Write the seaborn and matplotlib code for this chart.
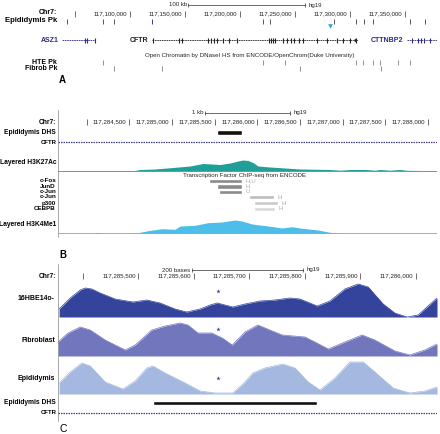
import seaborn as sns
import matplotlib.pyplot as plt

sns.set_theme(style="white")
plt.rcParams["font.family"] = ["Liberation Sans", "DejaVu Sans"]

W, H = 440, 434

# ---------------- panel A : ~340 kb around CFTR ----------------
A_XLIM = (117_035_500, 117_379_000)
A_TICKS = [117_050_000, 117_100_000, 117_150_000, 117_200_000,
           117_250_000, 117_300_000, 117_350_000]
A_SCALE = (117_153_000, 117_259_000)

EPI_PK = [117_042_700, 117_075_500, 117_085_500, 117_120_000, 117_221_000,
          117_227_000, 117_285_500, 117_305_500, 117_313_000, 117_321_000,
          117_354_500, 117_368_000]
EPI_PK_COLORS = ["#555555"] * 3 + ["#3a3a9a"] + ["#555555"] * 8
HTE_PK = [117_075_500, 117_221_000, 117_241_000, 117_305_500, 117_312_000,
          117_321_000, 117_327_000, 117_343_500, 117_354_500]
FIB_PK = [117_085_500, 117_129_000, 117_254_500, 117_328_000]
ARROW_POS = 117_281_800

GENE_NAMES = ["ASZ1", "CFTR", "CTTNBP2"]
GENE_START = [117_038_200, 117_120_000, 117_351_700]
GENE_END = [117_068_200, 117_305_400, 117_379_000]
GENE_EXONS = [
    [117_059_100, 117_061_000, 117_068_200],
    [117_120_900, 117_144_500, 117_147_300, 117_170_900, 117_173_600,
     117_176_300, 117_179_100, 117_184_500, 117_190_000, 117_197_200,
     117_226_300, 117_228_100, 117_229_900, 117_231_800, 117_239_000,
     117_242_700, 117_246_300, 117_249_000, 117_253_600, 117_257_200,
     117_270_000, 117_279_000, 117_288_100, 117_293_600, 117_300_000,
     117_305_400],
    [117_356_300, 117_361_700, 117_364_500, 117_367_200, 117_372_600],
]
GENE_COLORS = ["#2a2a86", "#222222", "#2a2a86"]

# ---------------- panel B : ~4.4 kb ----------------
B_XLIM = (117_283_663, 117_288_105)
B_TICKS = [117_284_000, 117_284_500, 117_285_000, 117_285_500, 117_286_000,
           117_286_500, 117_287_000, 117_287_500, 117_288_000]
B_SCALE = (117_285_385, 117_286_380)
DHS = (117_285_526, 117_285_822)

H3K27AC_POS = [117_283_663, 117_284_565, 117_284_624, 117_284_800, 117_285_011,
               117_285_210, 117_285_362, 117_285_468, 117_285_562, 117_285_679,
               117_285_773, 117_285_831, 117_285_890, 117_285_948, 117_286_007,
               117_286_148, 117_286_323, 117_286_499, 117_286_710, 117_286_851,
               117_286_968, 117_287_085, 117_287_261, 117_287_378, 117_287_437,
               117_287_554, 117_287_671, 117_287_753, 117_287_906, 117_288_105]
H3K27AC_VAL = [0, 0, 1, 1.5, 3, 4.5, 7, 6.5, 6, 7.5, 9.5, 10.5, 10, 8, 4.5,
               3.5, 2.5, 1.5, 1.2, 1, 0.3, 1, 1, 0.3, 1, 0.3, 1, 0.2, 0, 0]

H3K4ME1_POS = [117_283_663, 117_284_097, 117_284_132, 117_284_179, 117_284_507,
               117_284_624, 117_284_718, 117_284_882, 117_285_034, 117_285_093,
               117_285_269, 117_285_421, 117_285_585, 117_285_737, 117_285_819,
               117_285_937, 117_286_124, 117_286_288, 117_286_405, 117_286_523,
               117_286_710, 117_286_874, 117_287_027, 117_288_105]
H3K4ME1_VAL = [0, 0, 0.8, 0, 0, 1, 2.6, 4.6, 4, 7.3, 8, 10.6, 11.3, 13.3,
               12.3, 9.3, 7.3, 5.3, 6.6, 5, 3.3, 0.6, 0, 0]

TF_NAMES = ["c-Fos", "JunD", "c-Jun", "c-Jun", "p300", "CEBPB"]
TF_START = [117_285_433, 117_285_527, 117_285_550, 117_285_902, 117_285_960, 117_285_960]
TF_END = [117_285_820, 117_285_820, 117_285_820, 117_286_195, 117_286_242, 117_286_206]
TF_CELLS = ["H,U", "H", "U", "H", "H", "H"]
TF_COLORS = ["#8a8a8a", "#8a8a8a", "#8a8a8a", "#bcbcbc", "#cacaca", "#dadada"]

# ---------------- panel C : ~680 bp ----------------
C_XLIM = (117_285_355, 117_286_038)
C_TICKS = [117_285_400, 117_285_500, 117_285_600, 117_285_700, 117_285_800,
           117_285_900, 117_286_000]
C_SCALE = (117_285_596, 117_285_796)
STAR_POS = 117_285_643

HBE_POS = [117_285_357, 117_285_377, 117_285_395, 117_285_404, 117_285_416,
           117_285_431, 117_285_458, 117_285_490, 117_285_515, 117_285_539,
           117_285_566, 117_285_587, 117_285_611, 117_285_629, 117_285_642,
           117_285_656, 117_285_670, 117_285_692, 117_285_719, 117_285_746,
           117_285_773, 117_285_791, 117_285_822, 117_285_845, 117_285_872,
           117_285_896, 117_285_914, 117_285_941, 117_285_962, 117_285_984,
           117_286_004, 117_286_022, 117_286_038]
HBE_VAL = [8, 19, 27, 29, 28, 24, 18, 15, 17, 14, 8, 5, 8, 12, 14, 12, 10, 13,
           16, 17, 19, 18, 11, 16, 28, 33, 30, 13, 4, 0, 2, 11, 19]

FIB_POS = [117_285_355, 117_285_373, 117_285_395, 117_285_413, 117_285_440,
           117_285_476, 117_285_494, 117_285_524, 117_285_548, 117_285_575,
           117_285_589, 117_285_607, 117_285_632, 117_285_651, 117_285_669,
           117_285_692, 117_285_715, 117_285_737, 117_285_759, 117_285_800,
           117_285_818, 117_285_842, 117_285_872, 117_285_903, 117_285_926,
           117_285_962, 117_285_989, 117_286_016, 117_286_038]
FIB_VAL = [14, 23, 29, 26, 16, 6, 11, 26, 30, 33, 31, 23, 23, 18, 11, 24, 31,
           26, 21, 19, 14, 7, 14, 21, 16, 5, 1, 6, 12]

EPI_POS = [117_285_357, 117_285_377, 117_285_398, 117_285_413, 117_285_440,
           117_285_472, 117_285_494, 117_285_515, 117_285_526, 117_285_548,
           117_285_584, 117_285_611, 117_285_638, 117_285_670, 117_285_692,
           117_285_706, 117_285_728, 117_285_760, 117_285_782, 117_285_806,
           117_285_827, 117_285_854, 117_285_881, 117_285_905, 117_285_926,
           117_285_959, 117_285_989, 117_286_016, 117_286_038]
EPI_VAL = [11, 22, 31, 28, 12, 5, 13, 26, 28, 21, 11, 3, 1, 1, 12, 21, 26, 30,
           26, 12, 4, 16, 32, 32, 22, 6, 1, 3, 7]

TICK_FS = 4.4
LAB_FS = 4.8

fig = plt.figure(figsize=(4.4, 4.34), dpi=100)


def px_axes(x0, x1, y0, y1, xlim):
    # axes placed in pixel units, y runs downwards like the browser image
    ax = fig.add_axes([x0 / W, 1 - y1 / H, (x1 - x0) / W, (y1 - y0) / H])
    ax.set_xlim(*xlim)
    ax.set_ylim(y1, y0)
    ax.axis("off")
    return ax


def label(x, y, s, size=LAB_FS, bold=True, ha="right", color="black"):
    fig.text(x / W, 1 - y / H, s, ha=ha, va="center", fontsize=size,
             fontweight="bold" if bold else "normal", color=color)


def ruler(ax, ticks, y, bare_first=True):
    ax.vlines(ticks, y - 3, y + 3, color="#333333", lw=0.5)
    for i, t in enumerate(ticks):
        if bare_first and i == 0:
            continue
        ax.annotate(f"{t:,}", (t, y), xytext=(-2, 0), textcoords="offset points",
                    ha="right", va="center", fontsize=TICK_FS, color="#222222")


def scalebar(ax, span, y, text):
    ax.plot(span, [y, y], color="#333333", lw=0.5)
    ax.vlines(span, y - 2, y + 2, color="#333333", lw=0.5)
    ax.annotate(text, (span[0], y), xytext=(-1, 0), textcoords="offset points",
                ha="right", va="center", fontsize=TICK_FS)
    ax.annotate("hg19", (span[1], y), xytext=(3, 0), textcoords="offset points",
                ha="left", va="center", fontsize=TICK_FS)


def dotted_gene(ax, xlim, y):
    ax.plot(xlim, [y, y], color="#3c3c8c", lw=0.9, ls=(0, (1.2, 0.8)))


# ================= A =================
axA = px_axes(59, 437, 0, 86, A_XLIM)
scalebar(axA, A_SCALE, 5, "100 kb")
ruler(axA, A_TICKS, 13.5)
label(57, 13, "Chr7:", size=5)
axA.vlines(EPI_PK, 18.5, 24, colors=EPI_PK_COLORS, lw=0.7)
label(57, 20.5, "Epididymis Pk", size=5.5)
axA.plot([ARROW_POS], [26], marker="v", ms=3.4, color="#33a8e0", mew=0)

for name, s, e, ex, c in zip(GENE_NAMES, GENE_START, GENE_END, GENE_EXONS, GENE_COLORS):
    axA.plot([s, e], [40, 40], color=c, lw=0.6, ls=(0, (2, 0.8)))
    axA.vlines(ex, 37.5, 42.5, color=c, lw=0.8)
    axA.annotate(name, (s, 40), xytext=(-2.5, 0), textcoords="offset points",
                 ha="right", va="center", fontsize=5, fontweight="bold", color=c)
axA.plot([GENE_END[1]], [40], marker=">", ms=2.6, color="#222222", mew=0)

axA.text(117_209_000, 55,
         "Open Chromatin by DNaseI HS from ENCODE/OpenChrom(Duke University)",
         ha="center", va="center", fontsize=TICK_FS)
axA.vlines(HTE_PK, 60, 64.5, color="#666666", lw=0.5)
axA.vlines(FIB_PK, 66, 70.5, color="#666666", lw=0.5)
label(57, 62.5, "HTE Pk", size=5)
label(57, 68, "Fibrob Pk", size=5)
label(59, 80, "A", size=7, ha="left")

# ================= B =================
axB = px_axes(58, 437, 98, 240, B_XLIM)
axB.plot([B_XLIM[0]] * 2, [110, 237], color="#999999", lw=0.6, clip_on=False)
scalebar(axB, B_SCALE, 112.7, "1 kb")
ruler(axB, B_TICKS, 122)
label(56, 122, "Chr7:")
axB.barh(132, DHS[1] - DHS[0], left=DHS[0], height=5, color="#111111")
label(56, 132, "Epididymis DHS")
dotted_gene(axB, B_XLIM, 142)
label(57, 142, "CFTR", size=4.3)

base = 170.5
axB.fill_between(H3K27AC_POS, base, [base - v for v in H3K27AC_VAL],
                 color="#1f9f97", lw=0)
axB.axhline(base, color="#1f9f97", lw=0.6)
label(56, 163, "Layered H3K27Ac")

axB.text(117_285_855, 175, "Transcription Factor ChIP-seq from ENCODE",
         ha="center", va="center", fontsize=TICK_FS)
tf_rows = [181, 186.5, 191.7, 197, 203, 208.8]
for name, s, e, cells, c, y in zip(TF_NAMES, TF_START, TF_END, TF_CELLS, TF_COLORS, tf_rows):
    axB.barh(y, e - s, left=s, height=4.2, color=c)
    axB.annotate(cells, (e, y), xytext=(2.5, 0), textcoords="offset points",
                 ha="left", va="center", fontsize=TICK_FS, color="#aaaaaa")
    label(56, y, name, size=4.5)

base = 233.3
axB.fill_between(H3K4ME1_POS, base, [base - v for v in H3K4ME1_VAL],
                 color="#4dbde9", lw=0)
axB.axhline(base, color="#4dbde9", lw=0.6)
label(56, 225, "Layered H3K4Me1")
label(59, 254.5, "B", size=7, ha="left")

# ================= C =================
axC = px_axes(58, 437, 258, 434, C_XLIM)
axC.plot([C_XLIM[0]] * 2, [264, 421], color="#999999", lw=0.6, clip_on=False)
scalebar(axC, C_SCALE, 270, "200 bases")
ruler(axC, C_TICKS, 276)
label(56, 276, "Chr7:")

tracks = [
    ("16HBE14o-", HBE_POS, HBE_VAL, 317, "#34449c", 291, 298),
    ("Fibroblast", FIB_POS, FIB_VAL, 356, "#7277bd", 329, 340),
    ("Epididymis", EPI_POS, EPI_VAL, 394, "#a4b8e0", 378, 379),
]
for name, pos, val, base, c, star_y, lab_y in tracks:
    top = [base - v for v in val]
    axC.fill_between(pos, base, top, color=c, lw=0)
    sns.lineplot(x=pos, y=top, ax=axC, color=c, lw=0.5, sort=False)
    axC.plot([STAR_POS], [star_y], marker="*", ms=3.2, color="#3a3f9a", mew=0)
    label(55, lab_y, name, size=5)
axC.axis("off")

axC.barh(403, DHS[1] - DHS[0], left=DHS[0], height=4.6, color="#111111")
label(56, 403, "Epididymis DHS")
dotted_gene(axC, C_XLIM, 413)
label(57, 413, "CFTR", size=4.3)
label(59, 429, "C", size=7.5, ha="left", bold=False)

fig.savefig("out.png", dpi=100)
